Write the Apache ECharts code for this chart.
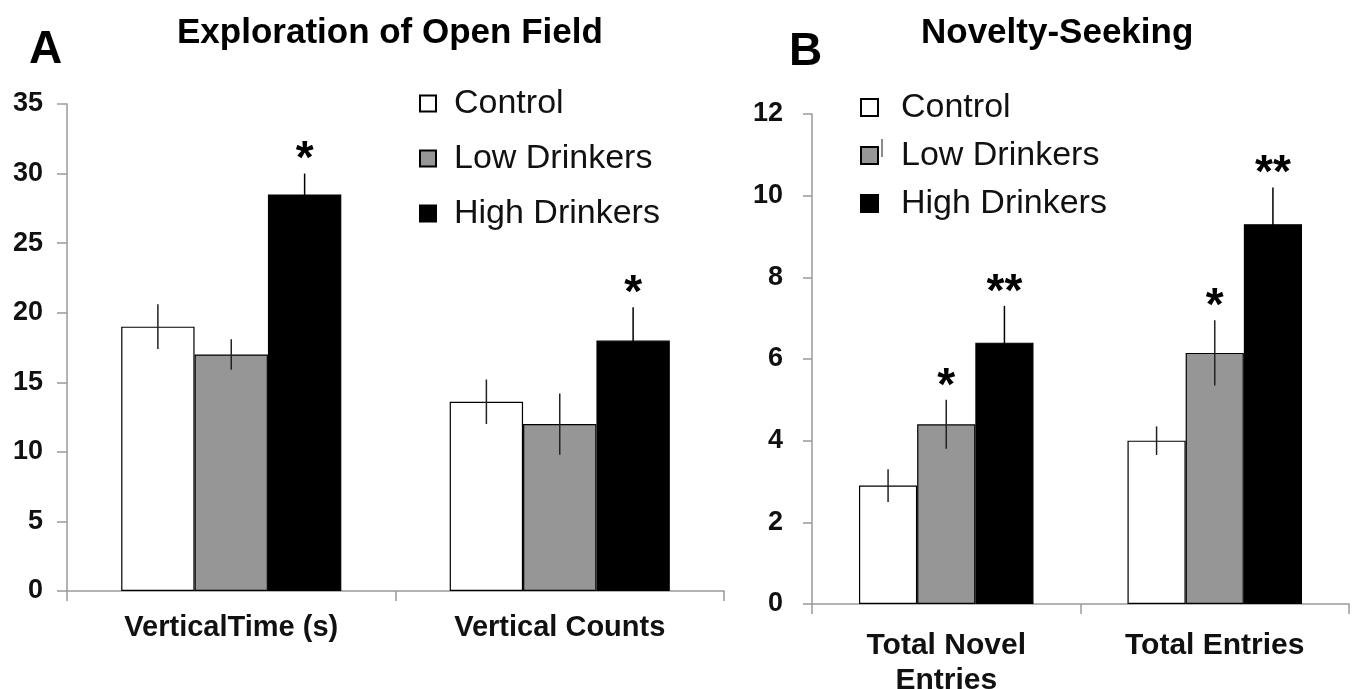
<!DOCTYPE html>
<html>
<head>
<meta charset="utf-8">
<script src="https://cdn.jsdelivr.net/npm/echarts@6/dist/echarts.min.js"></script>
<style>
html,body{margin:0;padding:0;background:#fff;}
#c{width:1358px;height:689px;}
</style>
</head>
<body>
<div id="c"></div>
<script>
// ---- Panel A data ----
const catsA = ['VerticalTime (s)', 'Vertical Counts'];
const controlA = [19.0, 13.6];
const lowA = [17.0, 12.0];
const highA = [28.5, 18.0];
const errControlA = [1.6, 1.6];
const errLowA = [1.1, 2.2];
const errHighA = [1.5, 2.4];
const sigControlA = ['', ''];
const sigLowA = ['', ''];
const sigHighA = ['*', '*'];
const ticksA = { min: 0, max: 35, interval: 5 };

// ---- Panel B data ----
const catsB = ['Total Novel\nEntries', 'Total Entries'];
const controlB = [2.9, 4.0];
const lowB = [4.4, 6.15];
const highB = [6.4, 9.3];
const errControlB = [0.4, 0.35];
const errLowB = [0.6, 0.8];
const errHighB = [0.9, 0.9];
const sigControlB = ['', ''];
const sigLowB = ['*', '*'];
const sigHighB = ['**', '**'];
const ticksB = { min: 0, max: 12, interval: 2 };

const groupNames = ['Control', 'Low Drinkers', 'High Drinkers'];
const fills = ['#ffffff', '#969696', '#000000'];

const FONT = '"Liberation Sans", Arial, sans-serif';
const gapA = 0.33, gapB = 0.35;

function barSeries(name, data, idx, gi, gap) {
  return {
    type: 'bar', name: name, data: data,
    xAxisIndex: gi, yAxisIndex: gi,
    barGap: '0%', barCategoryGap: (gap * 100) + '%',
    itemStyle: { color: fills[idx], borderColor: '#000', borderWidth: 1.2 },
    emphasis: { disabled: true },
    silent: true
  };
}

function errSeries(vals, errs, sigs, idx, gi, gap) {
  const data = vals.map((v, i) => [i, v, errs[i]]);
  return {
    type: 'custom', xAxisIndex: gi, yAxisIndex: gi,
    data: data, z: 10, silent: true,
    encode: { x: 0, y: 1 },
    renderItem: function (params, api) {
      const cat = api.value(0), v = api.value(1), e = api.value(2);
      const band = api.size([1, 0])[0];
      const bw = band * (1 - gap) / 3;
      const c = api.coord([cat, v]);
      const x = c[0] + (idx - 1) * bw;
      const yt = api.coord([cat, v + e])[1];
      const yb = api.coord([cat, v - e])[1];
      const children = [{
        type: 'line',
        shape: { x1: x, y1: yt, x2: x, y2: yb },
        style: { stroke: idx === 2 ? '#000' : '#222', lineWidth: 1.5 }
      }];
      const s = sigs[params.dataIndex];
      if (s) {
        children.push({
          type: 'text',
          style: {
            text: s, x: x, y: yt + 10,
            font: 'bold 46px ' + FONT,
            fill: '#000', align: 'center', verticalAlign: 'bottom'
          }
        });
      }
      return { type: 'group', children: children };
    }
  };
}

const axisLineStyle = { color: '#9a9a9a', width: 1.5 };

const option = {
  animation: false,
  backgroundColor: '#fff',
  title: [
    { text: 'A', left: 24, top: 22, textStyle: { fontFamily: FONT, fontWeight: 'bold', fontSize: 46, color: '#000' } },
    { text: 'Exploration of Open Field', left: 172, top: 11, textStyle: { fontFamily: FONT, fontWeight: 'bold', fontSize: 35, color: '#000' } },
    { text: 'B', left: 784, top: 24, textStyle: { fontFamily: FONT, fontWeight: 'bold', fontSize: 46, color: '#000' } },
    { text: 'Novelty-Seeking', left: 916, top: 11, textStyle: { fontFamily: FONT, fontWeight: 'bold', fontSize: 35, color: '#000' } }
  ],
  legend: [
    {
      data: groupNames, orient: 'vertical', left: 414, top: 81,
      itemWidth: 16, itemHeight: 16, itemGap: 20, icon: 'rect',
      selectedMode: false,
      textStyle: { fontFamily: FONT, fontSize: 34, color: '#111', lineHeight: 35, padding: [0, 0, 0, 13] }
    },
    {
      data: groupNames, orient: 'vertical', left: 855, top: 85,
      itemWidth: 17, itemHeight: 17, itemGap: 13, icon: 'rect',
      selectedMode: false,
      textStyle: { fontFamily: FONT, fontSize: 34, color: '#111', lineHeight: 35, padding: [0, 0, 0, 18] }
    }
  ],
  graphic: [
    { type: 'rect', left: 881, top: 139, shape: { width: 2, height: 18 }, style: { fill: '#8a8a8a' }, silent: true }
  ],
  grid: [
    { left: 67, right: 634, top: 104, bottom: 98, outerBoundsMode: 'none', containLabel: false },
    { left: 812, right: 9, top: 114, bottom: 85, outerBoundsMode: 'none', containLabel: false }
  ],
  xAxis: [
    {
      type: 'category', gridIndex: 0, data: catsA,
      axisLine: { lineStyle: axisLineStyle },
      axisTick: { show: true, length: 10, lineStyle: axisLineStyle },
      axisLabel: { interval: 0, margin: 22, fontFamily: FONT, fontWeight: 'bold', fontSize: 29, color: '#111' }
    },
    {
      type: 'category', gridIndex: 1, data: catsB,
      axisLine: { lineStyle: axisLineStyle },
      axisTick: { show: true, length: 10, lineStyle: axisLineStyle },
      axisLabel: { interval: 0, margin: 24, fontFamily: FONT, fontWeight: 'bold', fontSize: 30, color: '#111', lineHeight: 35 }
    }
  ],
  yAxis: [
    {
      type: 'value', gridIndex: 0, min: ticksA.min, max: ticksA.max, interval: ticksA.interval,
      splitLine: { show: false },
      axisLine: { show: true, lineStyle: axisLineStyle },
      axisTick: { show: true, length: 10, lineStyle: axisLineStyle },
      axisLabel: { margin: 24, fontFamily: FONT, fontWeight: 'bold', fontSize: 27, color: '#111' }
    },
    {
      type: 'value', gridIndex: 1, min: ticksB.min, max: ticksB.max, interval: ticksB.interval,
      splitLine: { show: false },
      axisLine: { show: true, lineStyle: axisLineStyle },
      axisTick: { show: true, length: 9, lineStyle: axisLineStyle },
      axisLabel: { margin: 29, fontFamily: FONT, fontWeight: 'bold', fontSize: 27, color: '#111' }
    }
  ],
  series: [
    barSeries(groupNames[0], controlA, 0, 0, gapA),
    barSeries(groupNames[1], lowA, 1, 0, gapA),
    barSeries(groupNames[2], highA, 2, 0, gapA),
    barSeries(groupNames[0], controlB, 0, 1, gapB),
    barSeries(groupNames[1], lowB, 1, 1, gapB),
    barSeries(groupNames[2], highB, 2, 1, gapB),
    errSeries(controlA, errControlA, sigControlA, 0, 0, gapA),
    errSeries(lowA, errLowA, sigLowA, 1, 0, gapA),
    errSeries(highA, errHighA, sigHighA, 2, 0, gapA),
    errSeries(controlB, errControlB, sigControlB, 0, 1, gapB),
    errSeries(lowB, errLowB, sigLowB, 1, 1, gapB),
    errSeries(highB, errHighB, sigHighB, 2, 1, gapB)
  ]
};

const chart = echarts.init(document.getElementById('c'), null, { renderer: 'canvas' });
chart.setOption(option);
</script>
</body>
</html>
